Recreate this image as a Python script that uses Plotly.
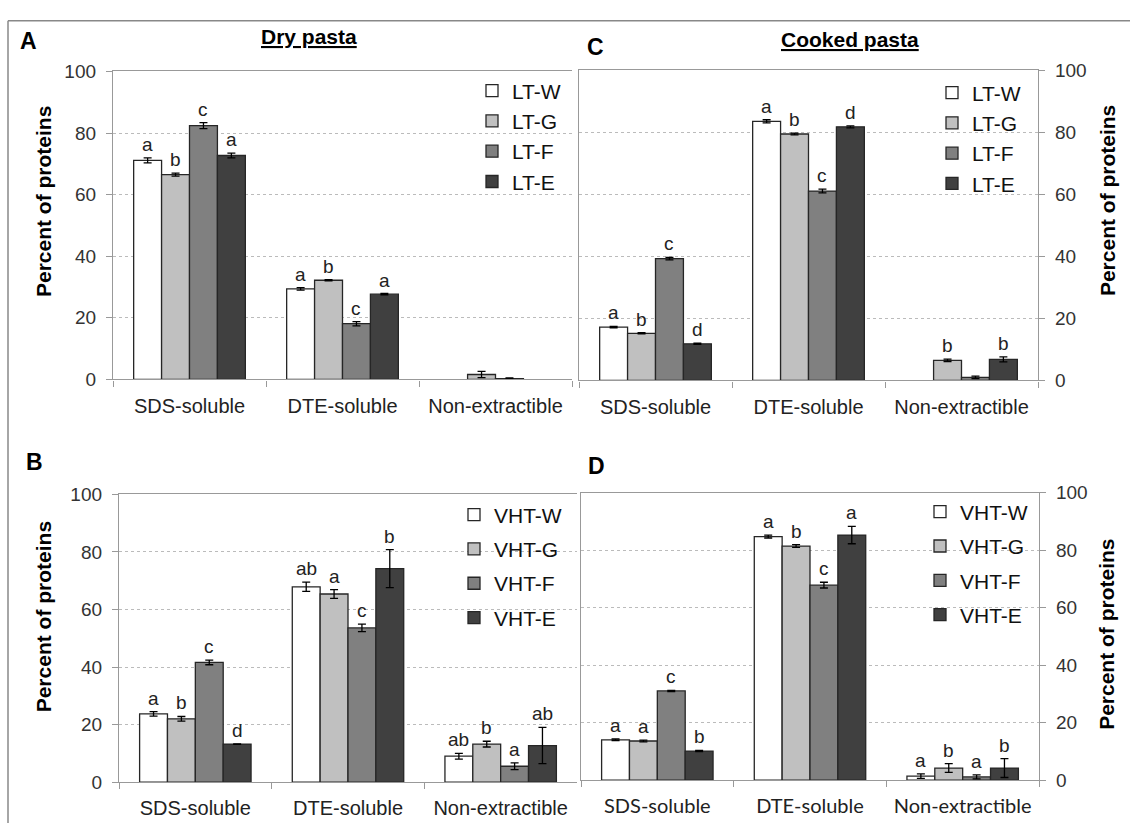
import plotly.graph_objects as go

W, H = 1130, 834

categories = ["SDS-soluble", "DTE-soluble", "Non-extractible"]
fill_colors = ["#FFFFFF", "#C0C0C0", "#808080", "#404040"]

# Panel A: Dry pasta, LT
A_names = ["LT-W", "LT-G", "LT-F", "LT-E"]
A_values = [[71.1, 29.4, None], [66.5, 32.2, 1.6], [82.4, 18.1, 0.3], [72.7, 27.7, None]]
A_errors = [[0.8, 0.4, 0], [0.5, 0.2, 1.0], [1.0, 0.7, 0.2], [0.8, 0.2, 0]]
A_letters = [["a", "a", ""], ["b", "b", ""], ["c", "c", ""], ["a", "a", ""]]

# Panel C: Cooked pasta, LT
C_names = ["LT-W", "LT-G", "LT-F", "LT-E"]
C_values = [[17.2, 83.6, None], [15.2, 79.5, 6.5], [39.3, 61.1, 1.0], [11.8, 81.8, 6.8]]
C_errors = [[0.2, 0.5, 0], [0.2, 0.3, 0.4], [0.4, 0.6, 0.4], [0.2, 0.3, 0.8]]
C_letters = [["a", "a", ""], ["b", "b", "b"], ["c", "c", ""], ["d", "d", "b"]]

# Panel B: Dry pasta, VHT
B_names = ["VHT-W", "VHT-G", "VHT-F", "VHT-E"]
B_values = [[23.7, 67.9, 9.0], [22.0, 65.4, 13.2], [41.6, 53.6, 5.5], [13.2, 74.2, 12.7]]
B_errors = [[0.8, 1.6, 1.0], [0.8, 1.5, 1.0], [0.8, 1.3, 1.2], [0.1, 6.6, 6.3]]
B_letters = [["a", "ab", "ab"], ["b", "a", "b"], ["c", "c", "a"], ["d", "b", "ab"]]

# Panel D: Cooked pasta, VHT
D_names = ["VHT-W", "VHT-G", "VHT-F", "VHT-E"]
D_values = [[14.0, 84.7, 1.4], [13.6, 81.4, 4.2], [31.0, 67.8, 1.1], [10.1, 85.2, 4.2]]
D_errors = [[0.3, 0.5, 0.8], [0.3, 0.5, 1.5], [0.2, 1.0, 0.7], [0.2, 3.0, 3.3]]
D_letters = [["a", "a", "a"], ["a", "b", "b"], ["c", "c", "a"], ["b", "a", "b"]]

y_ticks = [0, 20, 40, 60, 80, 100]

ARIAL = "Liberation Sans, Arial, sans-serif"
CALIBRI = "Lato, Carlito, Calibri, sans-serif"

BARGAP = 0.27
bar_w = (1 - BARGAP) / 4
offsets = [(-1.5 + i) * bar_w for i in range(4)]

# panel pixel boxes: (x0, x1, ytop, ybottom)
panels = [
    dict(key="", names=A_names, vals=A_values, errs=A_errors, lets=A_letters,
         box=(113, 572, 63, 379), side="left", legend="legend", catfont=ARIAL),
    dict(key="2", names=C_names, vals=C_values, errs=C_errors, lets=C_letters,
         box=(579, 1038, 62, 380), side="right", legend="legend2", catfont=ARIAL),
    dict(key="3", names=B_names, vals=B_values, errs=B_errors, lets=B_letters,
         box=(119, 577, 497, 792), side="left", legend="legend3", catfont=ARIAL),
    dict(key="4", names=D_names, vals=D_values, errs=D_errors, lets=D_letters,
         box=(581, 1039, 495, 790), side="right", legend="legend4", catfont=CALIBRI),
]

fig = go.Figure()
annotations = []
layout = {}

for p in panels:
    k = p["key"]
    xa, ya = "x" + k, "y" + k
    for i in range(4):
        fig.add_trace(go.Bar(
            x=categories, y=p["vals"][i], name=p["names"][i],
            xaxis=xa, yaxis=ya, legend=p["legend"], legendgroup=p["legend"] + str(i),
            marker=dict(color=fill_colors[i], line=dict(color="#262626", width=1.3)),
            error_y=dict(type="data", array=p["errs"][i], visible=True,
                         color="#000000", thickness=1.3, width=4),
        ))
        for j in range(3):
            lt = p["lets"][i][j]
            v = p["vals"][i][j]
            if lt and v is not None:
                annotations.append(dict(
                    x=j + offsets[i], y=v + p["errs"][i][j], xref=xa, yref=ya,
                    text=lt, showarrow=False, yanchor="bottom", yshift=1,
                    font=dict(family=ARIAL, size=19, color="#222222")))
    x0, x1, yt, yb = p["box"]
    layout["xaxis" + k] = dict(
        domain=[x0 / W, x1 / W], anchor=ya, type="category",
        showline=True, linecolor="#999999", linewidth=1.3, mirror=True,
        ticks="outside", tickson="boundaries", ticklen=6, tickcolor="#999999",
        tickfont=dict(family=p["catfont"], size=20, color="#222222"),
        ticklabelstandoff=8, showgrid=False, fixedrange=True,
        range=[-0.5, 2.5])
    layout["yaxis" + k] = dict(
        domain=[1 - yb / H, 1 - yt / H], anchor=xa, side=p["side"],
        range=[0, 100], tickvals=y_ticks, showline=True, linecolor="#999999",
        linewidth=1.3, mirror=(p["side"] == "right"),
        ticks="outside", ticklen=6, tickcolor="#999999",
        tickfont=dict(family=ARIAL, size=19, color="#333333"),
        ticklabelstandoff=6, fixedrange=True,
        showgrid=True, gridcolor="#BBBBBB", griddash="dot", gridwidth=1,
        zeroline=False)

legend_pos = {
    "legend": (472, 62, 0),
    "legend2": (932, 64, 0),
    "legend3": (454, 497, 4),
    "legend4": (920, 494, 4),
}
for lname, (lx, ly, gap) in legend_pos.items():
    layout[lname] = dict(x=lx / W, y=1 - ly / H, xanchor="left", yanchor="top",
                         bgcolor="rgba(0,0,0,0)", borderwidth=0,
                         font=dict(family=ARIAL, size=21, color="#111111"),
                         traceorder="grouped", tracegroupgap=gap,
                         itemclick=False, itemdoubleclick=False)

# Titles, panel letters, axis titles
texts = [
    ("<b><u>Dry pasta</u></b>", 309, 27, 21, 0),
    ("<b><u>Cooked pasta</u></b>", 850, 30, 21, 0),
    ("<b>A</b>", 28, 32, 23, 0),
    ("<b>C</b>", 595, 38, 23, 0),
    ("<b>B</b>", 34, 464, 23, 0),
    ("<b>D</b>", 596, 468, 23, 0),
    ("<b>Percent of proteins</b>", 43, 197, 21, -90),
    ("<b>Percent of proteins</b>", 1107, 196, 21, -90),
    ("<b>Percent of proteins</b>", 43, 623, 21, -90),
    ("<b>Percent of proteins</b>", 1107, 641, 21, -90),
]
for t, px, py, fs, ang in texts:
    annotations.append(dict(text=t, x=px / W, y=1 - py / H, xref="paper", yref="paper",
                            showarrow=False, xanchor="center", yanchor="middle",
                            textangle=ang,
                            font=dict(family=ARIAL, size=fs, color="#000000")))

shapes = [
    dict(type="line", xref="paper", yref="paper", x0=8 / W, x1=1.0, y0=1 - 11 / H, y1=1 - 11 / H,
         line=dict(color="#888888", width=1.5)),
    dict(type="line", xref="paper", yref="paper", x0=8 / W, x1=8 / W, y0=0, y1=1 - 11 / H,
         line=dict(color="#888888", width=1.5)),
]

fig.update_layout(
    width=W, height=H, margin=dict(l=0, r=0, t=0, b=0), autosize=False,
    paper_bgcolor="white", plot_bgcolor="white",
    barmode="group", bargap=BARGAP, bargroupgap=0,
    annotations=annotations, shapes=shapes, showlegend=True,
    hovermode=False,
    **layout)

fig.write_html(
    "out.html",
    config={"displayModeBar": False, "staticPlot": False},
    post_script="document.body.style.margin='0px';document.body.style.overflow='hidden';",
)
